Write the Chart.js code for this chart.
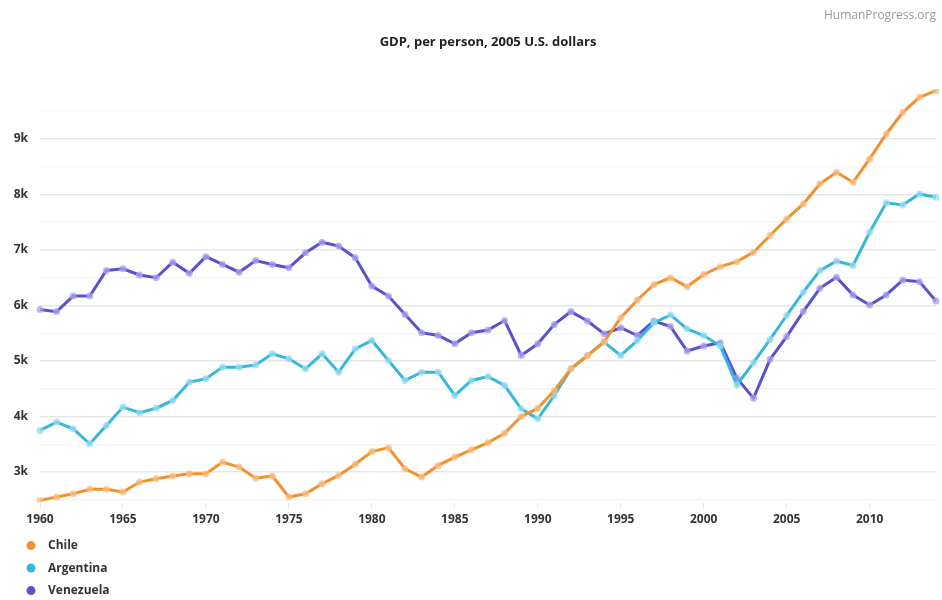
<!DOCTYPE html>
<html>
<head>
<meta charset="utf-8">
<script src="https://cdn.jsdelivr.net/npm/chart.js@4/dist/chart.umd.min.js"></script>
<style>
  html, body { margin: 0; padding: 0; background: #fff; }
  #wrap { width: 942px; height: 600px; }
</style>
</head>
<body>
<div id="wrap"><canvas id="gdp"></canvas></div>
<script>
// years on the x axis
const years = [];
for (let y = 1960; y <= 2014; y++) years.push(y);

// y gridlines (every 500) - only the whole thousands get a label
const yGridValues = [2500, 3000, 3500, 4000, 4500, 5000, 5500, 6000, 6500, 7000, 7500, 8000, 8500, 9000, 9500];

// GDP per person, 2005 U.S. dollars
const chile = [
  2490, 2550, 2610, 2690, 2690, 2640, 2820, 2880, 2930, 2970,
  2970, 3180, 3090, 2890, 2930, 2550, 2610, 2790, 2940, 3140,
  3370, 3440, 3060, 2910, 3120, 3270, 3400, 3530, 3700, 4000,
  4150, 4470, 4860, 5100, 5350, 5780, 6100, 6380, 6500, 6340,
  6560, 6700, 6790, 6960, 7260, 7560, 7830, 8190, 8400, 8220,
  8640, 9090, 9480, 9750, 9870
];
const argentina = [
  3750, 3900, 3780, 3510, 3840, 4170, 4070, 4150, 4290, 4620,
  4680, 4890, 4890, 4930, 5130, 5040, 4860, 5130, 4800, 5220,
  5370, 5010, 4650, 4800, 4800, 4380, 4650, 4720, 4560, 4140,
  3960, 4380, 4860, 5100, 5340, 5100, 5370, 5690, 5830, 5580,
  5460, 5270, 4570, 4970, 5390, 5820, 6240, 6630, 6800, 6720,
  7320, 7850, 7810, 8010, 7950
];
const venezuela = [
  5930, 5890, 6170, 6170, 6630, 6660, 6550, 6500, 6780, 6580,
  6880, 6740, 6600, 6810, 6740, 6680, 6950, 7140, 7070, 6860,
  6350, 6170, 5840, 5510, 5460, 5310, 5510, 5560, 5730, 5100,
  5310, 5660, 5890, 5720, 5490, 5600, 5460, 5720, 5620, 5180,
  5270, 5330, 4690, 4330, 5030, 5440, 5890, 6310, 6510, 6190,
  6010, 6190, 6460, 6430, 6080
];

const seriesNames = ['Chile', 'Argentina', 'Venezuela'];
const seriesColors = ['#F0922F', '#38B6DC', '#5B51CF'];
const seriesPoints = ['rgba(248,190,130,0.75)', 'rgba(150,220,242,0.75)', 'rgba(170,160,240,0.75)'];

Chart.defaults.font.family = "'Open Sans', 'DejaVu Sans', sans-serif";
Chart.defaults.color = '#333';

// legend stacked under the axis, like the original
const stackedLegend = {
  id: 'stackedLegend',
  afterDraw(chart) {
    const ctx = chart.ctx;
    const top = chart.chartArea.bottom + 43;
    ctx.save();
    ctx.font = "bold 12px 'Open Sans', sans-serif";
    ctx.textBaseline = 'middle';
    chart.data.datasets.forEach((ds, i) => {
      const y = top + i * 22.5;
      ctx.fillStyle = ds.borderColor;
      ctx.beginPath();
      ctx.arc(31, y, 4.5, 0, Math.PI * 2);
      ctx.fill();
      ctx.fillStyle = '#333';
      ctx.fillText(ds.label, 48, y);
    });
    ctx.restore();
  }
};

const datasets = [chile, argentina, venezuela].map((vals, i) => ({
  label: seriesNames[i],
  data: vals,
  borderColor: seriesColors[i],
  backgroundColor: seriesColors[i],
  borderWidth: 3,
  pointRadius: 3.5,
  pointBackgroundColor: seriesPoints[i],
  pointBorderWidth: 0,
  tension: 0
}));

new Chart(document.getElementById('gdp').getContext('2d'), {
  type: 'line',
  data: { labels: years, datasets: datasets },
  options: {
    responsive: true,
    maintainAspectRatio: false,
    animation: false,
    layout: { padding: { left: 0, right: 6, top: 0, bottom: 68 } },
    plugins: {
      legend: { display: false },
      tooltip: { enabled: false },
      title: {
        display: true,
        text: 'HumanProgress.org',
        align: 'end',
        color: '#999',
        font: { size: 12, weight: 'normal' },
        padding: { top: 8, bottom: 12 }
      },
      subtitle: {
        display: true,
        text: 'GDP, per person, 2005 U.S. dollars',
        fullSize: false,
        color: '#222',
        font: { size: 13, weight: 'bold' },
        padding: { top: 0, bottom: 39 }
      }
    },
    scales: {
      x: {
        offset: false,
        border: { display: false },
        grid: {
          drawOnChartArea: false,
          drawTicks: true,
          tickLength: 5,
          color: (c) => (c.tick && years[c.index] % 5 === 0) ? '#e4e4e4' : 'rgba(0,0,0,0)'
        },
        ticks: {
          autoSkip: false,
          maxRotation: 0,
          padding: 5,
          font: { size: 12, weight: 'bold' },
          callback: (v, i) => years[i] % 5 === 0 ? String(years[i]) : ''
        }
      },
      y: {
        min: 2450,
        max: 9900,
        border: { display: false },
        afterFit: (scale) => { scale.width = 40; },
        afterBuildTicks: (scale) => { scale.ticks = yGridValues.map(v => ({ value: v })); },
        grid: {
          drawTicks: false,
          lineWidth: 1.5,
          color: (c) => (c.tick.value % 1000 === 0) ? '#e6e6e6' : '#f5f5f5'
        },
        ticks: {
          autoSkip: false,
          padding: 12,
          font: { size: 12, weight: 'bold' },
          callback: (v) => (v % 1000 === 0) ? (v / 1000) + 'k' : ''
        }
      }
    }
  },
  plugins: [stackedLegend]
});
</script>
</body>
</html>
